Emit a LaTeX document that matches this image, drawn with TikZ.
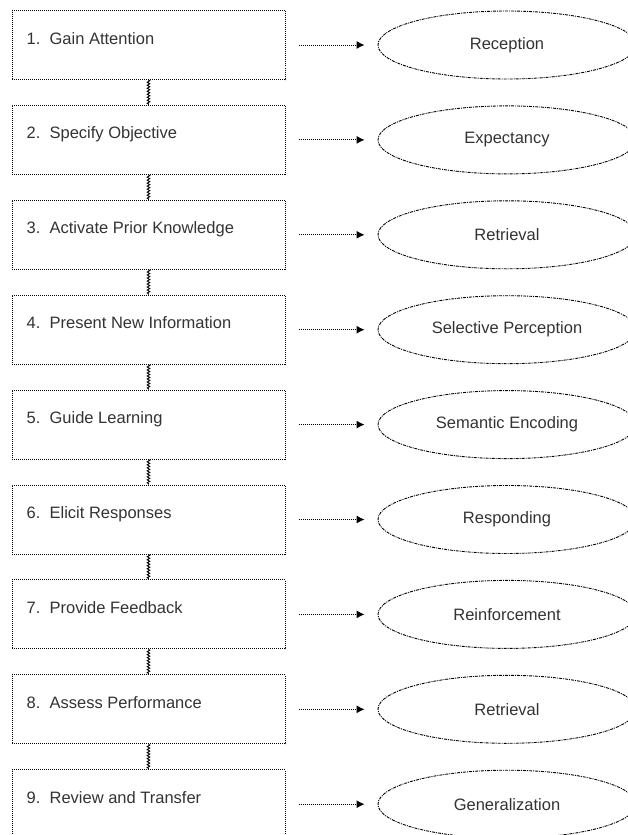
\documentclass[tikz,border=0pt]{standalone}
\usepackage{fontspec}
\setmainfont{Liberation Sans}
\usetikzlibrary{arrows.meta,shapes.geometric,decorations.pathmorphing}
\tikzset{
  stepbox/.style={draw=black, dash pattern=on 1pt off 1pt, line width=1pt, minimum width=273pt, minimum height=69pt, inner sep=0pt},
  steptext/.style={anchor=base west, inner sep=0pt, text=black!80, font=\fontsize{16.5}{19}\selectfont},
  stage/.style={draw=black, ellipse, dash pattern=on 3pt off 1pt on 1pt off 1pt, line width=0.9pt, minimum width=258pt, minimum height=68pt, inner sep=0pt, text=black!80, font=\fontsize{16.5}{19}\selectfont},
  feed/.style={dash pattern=on 1pt off 1pt, line width=1pt, -{Latex[length=8pt,width=8pt]}, shorten <=13pt, shorten >=13pt},
  link/.style={line width=0.9pt, decorate, decoration={zigzag, amplitude=1.3pt, segment length=3pt}}
}
\begin{document}
\begin{tikzpicture}[x=1pt, y=-1pt]
        \useasboundingbox (0,0) rectangle (627,835);

        \node[stepbox] (s1) at (148.5,45) {};
        \node[stepbox] (s2) at (148.5,139.9) {};
        \node[stepbox] (s3) at (148.5,234.8) {};
        \node[stepbox] (s4) at (148.5,329.7) {};
        \node[stepbox] (s5) at (148.5,424.6) {};
        \node[stepbox] (s6) at (148.5,519.5) {};
        \node[stepbox] (s7) at (148.5,614.4) {};
        \node[stepbox] (s8) at (148.5,709.3) {};
        \node[stepbox] (s9) at (148.5,804.2) {};

        \node[steptext] (t1) at ([xshift=15pt,yshift=-34pt]s1.north west) {1.\ \ Gain Attention};
        \node[steptext] (t2) at ([xshift=15pt,yshift=-34pt]s2.north west) {2.\ \ Specify Objective};
        \node[steptext] (t3) at ([xshift=15pt,yshift=-34pt]s3.north west) {3.\ \ Activate Prior Knowledge};
        \node[steptext] (t4) at ([xshift=15pt,yshift=-34pt]s4.north west) {4.\ \ Present New Information};
        \node[steptext] (t5) at ([xshift=15pt,yshift=-34pt]s5.north west) {5.\ \ Guide Learning};
        \node[steptext] (t6) at ([xshift=15pt,yshift=-34pt]s6.north west) {6.\ \ Elicit Responses};
        \node[steptext] (t7) at ([xshift=15pt,yshift=-34pt]s7.north west) {7.\ \ Provide Feedback};
        \node[steptext] (t8) at ([xshift=15pt,yshift=-34pt]s8.north west) {8.\ \ Assess Performance};
        \node[steptext] (t9) at ([xshift=15pt,yshift=-34pt]s9.north west) {9.\ \ Review and Transfer};

        \node[stage] (p1) at (507,45) {Reception};
        \node[stage] (p2) at (507,139.9) {Expectancy};
        \node[stage] (p3) at (507,234.8) {Retrieval};
        \node[stage] (p4) at (507,329.7) {Selective Perception};
        \node[stage] (p5) at (507,424.6) {Semantic Encoding};
        \node[stage] (p6) at (507,519.5) {Responding};
        \node[stage] (p7) at (507,614.4) {Reinforcement};
        \node[stage] (p8) at (507,709.3) {Retrieval};
        \node[stage] (p9) at (507,804.2) {Generalization};

        \draw[feed] (s1.east) -- (p1.west);
        \draw[feed] (s2.east) -- (p2.west);
        \draw[feed] (s3.east) -- (p3.west);
        \draw[feed] (s4.east) -- (p4.west);
        \draw[feed] (s5.east) -- (p5.west);
        \draw[feed] (s6.east) -- (p6.west);
        \draw[feed] (s7.east) -- (p7.west);
        \draw[feed] (s8.east) -- (p8.west);
        \draw[feed] (s9.east) -- (p9.west);

        \draw[link] (s1.south) -- (s2.north);
        \draw[link] (s2.south) -- (s3.north);
        \draw[link] (s3.south) -- (s4.north);
        \draw[link] (s4.south) -- (s5.north);
        \draw[link] (s5.south) -- (s6.north);
        \draw[link] (s6.south) -- (s7.north);
        \draw[link] (s7.south) -- (s8.north);
        \draw[link] (s8.south) -- (s9.north);
    \end{tikzpicture}
\end{document}
